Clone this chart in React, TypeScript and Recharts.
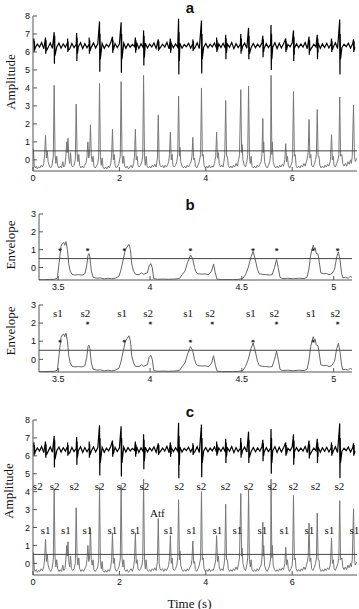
import React from "react";
import { ComposedChart, Line, XAxis, YAxis, ReferenceLine, ReferenceDot } from "recharts";

// ---- panel a / c : heart sound (top trace) and its envelope (bottom trace) ----
const SAMPLE_STEP = 0.05; // s between noise samples of the raw trace

const rawNoise = [
  6.48, 6.22, 6.44, 6.27, 6.52, 6.18, 6.46, 6.25, 6.5, 6.2,
  6.43, 6.28, 6.49, 6.21, 6.45, 6.26, 6.53, 6.17, 6.47, 6.24,
  6.42, 6.29, 6.51, 6.19, 6.46, 6.23, 6.44, 6.27, 6.5, 6.22,
  6.45, 6.25, 6.48, 6.2, 6.43, 6.28, 6.52, 6.18, 6.47, 6.24,
  6.44, 6.26, 6.49, 6.21, 6.46, 6.27, 6.42, 6.3, 6.51, 6.19,
  6.45, 6.24, 6.48, 6.22, 6.44, 6.28, 6.5, 6.2, 6.46, 6.25,
  6.43, 6.27, 6.53, 6.17, 6.47, 6.23, 6.45, 6.26, 6.49, 6.21,
  6.42, 6.29, 6.48, 6.22, 6.46, 6.24, 6.51, 6.19, 6.44, 6.27,
  6.47, 6.23, 6.43, 6.28, 6.5, 6.2, 6.45, 6.25, 6.48, 6.22,
  6.44, 6.26, 6.52, 6.18, 6.46, 6.24, 6.42, 6.3, 6.49, 6.21,
  6.45, 6.25, 6.47, 6.23, 6.44, 6.27, 6.5, 6.2, 6.46, 6.24,
  6.43, 6.28, 6.51, 6.19, 6.48, 6.22, 6.45, 6.26, 6.42, 6.29,
  6.49, 6.21, 6.46, 6.25, 6.44, 6.27, 6.52, 6.18, 6.47, 6.23,
  6.43, 6.28, 6.5, 6.2, 6.45, 6.25, 6.48, 6.22, 6.44, 6.26,
  6.51, 6.19, 6.46, 6.24, 6.43, 6.29, 6.49, 6.21, 6.45, 6.27,
];

// [time, high, low, ring high, ring low]
const rawSpikes = [
  [0.02, 6.75, 6.0, 6.6, 6.1],
  [0.29, 6.8, 5.9, 6.65, 6.05],
  [0.49, 7.1, 5.35, 6.9, 5.8],
  [0.8, 6.75, 6.0, 6.6, 6.1],
  [1.01, 7.05, 5.5, 6.8, 5.9],
  [1.3, 6.8, 5.9, 6.65, 6.05],
  [1.54, 7.7, 4.9, 7.0, 5.6],
  [1.84, 6.85, 5.95, 6.65, 6.1],
  [2.04, 7.65, 4.85, 7.0, 5.6],
  [2.37, 6.8, 5.95, 6.65, 6.1],
  [2.56, 7.2, 5.25, 6.9, 5.7],
  [2.9, 6.7, 6.05, 6.6, 6.15],
  [3.18, 6.75, 5.95, 6.6, 6.1],
  [3.37, 7.85, 4.75, 7.1, 5.5],
  [3.7, 6.7, 6.05, 6.6, 6.15],
  [3.9, 7.75, 4.8, 7.0, 5.6],
  [4.25, 6.8, 6.0, 6.65, 6.1],
  [4.46, 6.95, 5.6, 6.75, 5.95],
  [4.81, 7.0, 5.9, 6.75, 6.05],
  [4.99, 7.35, 5.6, 6.9, 5.9],
  [5.32, 6.9, 5.7, 6.7, 6.0],
  [5.51, 7.5, 5.0, 7.0, 5.6],
  [5.85, 6.75, 6.0, 6.6, 6.1],
  [6.03, 7.2, 5.5, 6.85, 5.85],
  [6.39, 6.85, 5.85, 6.65, 6.05],
  [6.58, 6.95, 5.6, 6.75, 5.95],
  [6.91, 6.75, 6.0, 6.6, 6.1],
  [7.1, 7.8, 4.75, 7.0, 5.6],
  [7.42, 6.7, 6.0, 6.6, 6.1],
];

// [time, envelope]
const envelopeFull = [
  [0.0, 0.1], [0.01, 0.6], [0.03, -0.3], [0.05, -0.45], [0.08, -0.35], [0.1, -0.5], [0.13, -0.4], [0.16, -0.45],
  [0.19, -0.3], [0.22, -0.4], [0.25, -0.2], [0.27, 0.3], [0.29, 1.35], [0.31, 0.1], [0.33, 0.5], [0.35, -0.1],
  [0.38, -0.35], [0.41, -0.45], [0.44, -0.3], [0.47, 0.2], [0.49, 4.15], [0.51, 0.3], [0.53, -0.2], [0.55, 0.2],
  [0.57, -0.3], [0.6, -0.45], [0.63, -0.35], [0.66, -0.45], [0.69, -0.1], [0.71, -0.4], [0.74, -0.3], [0.76, 0.2],
  [0.78, 1.0], [0.79, 0.4], [0.81, 1.2], [0.83, 0.1], [0.85, -0.2], [0.87, 0.4], [0.89, -0.3], [0.92, -0.4],
  [0.95, -0.3], [0.98, 0.0], [1.0, 3.1], [1.02, 0.4], [1.04, -0.1], [1.06, 0.3], [1.08, -0.3], [1.11, -0.45],
  [1.14, -0.35], [1.17, -0.45], [1.2, -0.3], [1.23, -0.15], [1.25, 0.2], [1.27, 1.0], [1.29, 0.1], [1.31, 0.3],
  [1.33, 1.95], [1.35, 0.2], [1.37, -0.1], [1.39, 0.2], [1.41, -0.35], [1.44, -0.45], [1.47, -0.35], [1.5, -0.2],
  [1.52, 0.2], [1.54, 4.25], [1.56, 0.2], [1.58, -0.3], [1.6, 0.1], [1.62, -0.4], [1.65, -0.5], [1.68, -0.4],
  [1.71, -0.5], [1.74, -0.35], [1.77, -0.45], [1.8, -0.2], [1.82, 0.2], [1.84, 1.7], [1.86, 0.0], [1.88, 0.3],
  [1.9, -0.3], [1.93, -0.45], [1.96, -0.35], [1.99, -0.2], [2.02, 0.2], [2.04, 4.35], [2.06, 0.3], [2.08, -0.2],
  [2.1, 0.2], [2.12, -0.35], [2.15, -0.45], [2.18, -0.35], [2.21, -0.5], [2.24, -0.4], [2.27, -0.3], [2.3, -0.45],
  [2.33, -0.2], [2.35, 0.2], [2.37, 1.7], [2.39, 0.0], [2.41, 0.2], [2.43, -0.3], [2.46, -0.4], [2.49, -0.3],
  [2.52, -0.1], [2.54, 0.2], [2.56, 4.7], [2.58, 0.2], [2.6, -0.3], [2.62, 0.2], [2.64, -0.35], [2.67, -0.45],
  [2.7, -0.35], [2.73, -0.45], [2.76, -0.3], [2.79, -0.4], [2.82, -0.25], [2.85, -0.4], [2.88, 0.1], [2.9, 2.5],
  [2.92, 0.0], [2.94, -0.3], [2.97, -0.4], [3.0, -0.3], [3.03, -0.45], [3.06, -0.3], [3.09, -0.4], [3.12, -0.25],
  [3.14, -0.1], [3.16, 0.3], [3.18, 1.55], [3.2, 0.0], [3.22, 0.3], [3.24, -0.3], [3.27, -0.4], [3.3, -0.3],
  [3.33, -0.1], [3.35, 0.3], [3.37, 3.55], [3.39, 0.2], [3.4, 0.7], [3.42, -0.1], [3.45, -0.35], [3.48, -0.45],
  [3.51, -0.35], [3.54, -0.45], [3.57, -0.3], [3.6, -0.4], [3.63, -0.25], [3.66, -0.1], [3.68, 0.2], [3.7, 1.25],
  [3.72, 0.0], [3.74, 0.1], [3.76, -0.35], [3.79, -0.45], [3.82, -0.3], [3.85, -0.1], [3.88, 0.3], [3.9, 4.0],
  [3.92, 0.2], [3.94, 0.3], [3.96, -0.3], [3.99, -0.45], [4.02, -0.35], [4.05, -0.45], [4.08, -0.3], [4.11, -0.45],
  [4.14, -0.35], [4.17, -0.4], [4.2, -0.2], [4.23, 0.2], [4.25, 1.55], [4.27, 0.1], [4.29, 0.4], [4.31, -0.2],
  [4.34, -0.4], [4.37, -0.3], [4.4, -0.4], [4.42, -0.1], [4.44, 0.3], [4.46, 3.3], [4.48, 0.2], [4.5, 0.2],
  [4.52, -0.3], [4.55, -0.45], [4.58, -0.35], [4.61, -0.45], [4.64, -0.3], [4.67, -0.4], [4.7, -0.2], [4.73, -0.35],
  [4.76, 0.0], [4.78, 0.3], [4.81, 3.9], [4.83, 0.4], [4.84, 0.85], [4.86, 0.0], [4.89, -0.3], [4.92, -0.4],
  [4.95, -0.1], [4.97, 0.3], [4.99, 4.1], [5.01, 0.2], [5.03, -0.2], [5.05, 0.2], [5.07, -0.35], [5.1, -0.45],
  [5.13, -0.35], [5.16, -0.45], [5.19, -0.3], [5.22, -0.4], [5.25, -0.25], [5.28, -0.1], [5.3, 0.3], [5.32, 2.3],
  [5.33, 0.4], [5.34, 1.0], [5.36, -0.1], [5.39, -0.35], [5.42, -0.45], [5.45, -0.3], [5.48, -0.1], [5.5, 0.3],
  [5.51, 4.7], [5.53, 0.3], [5.54, 1.0], [5.56, -0.1], [5.59, -0.35], [5.62, -0.45], [5.65, -0.35], [5.68, -0.45],
  [5.71, -0.3], [5.74, -0.4], [5.77, -0.25], [5.8, -0.35], [5.83, 0.0], [5.85, 0.9], [5.87, -0.1], [5.89, 0.2],
  [5.91, -0.3], [5.94, -0.45], [5.97, -0.3], [6.0, -0.1], [6.01, 0.3], [6.03, 3.8], [6.05, 0.2], [6.07, 0.3],
  [6.09, -0.3], [6.12, -0.45], [6.15, -0.35], [6.18, -0.45], [6.21, -0.3], [6.24, -0.4], [6.27, -0.2], [6.3, -0.35],
  [6.33, -0.1], [6.35, 0.1], [6.37, 0.4], [6.39, 2.25], [6.41, 0.1], [6.43, 0.3], [6.45, -0.3], [6.48, -0.4],
  [6.51, -0.25], [6.54, 0.0], [6.56, 0.3], [6.58, 2.8], [6.6, 0.2], [6.62, 0.2], [6.64, -0.3], [6.67, -0.45],
  [6.7, -0.35], [6.73, -0.45], [6.76, -0.3], [6.79, -0.4], [6.82, -0.25], [6.85, -0.35], [6.88, -0.1], [6.89, 0.2],
  [6.91, 1.4], [6.93, 0.0], [6.95, 0.2], [6.97, -0.3], [7.0, -0.4], [7.03, -0.2], [7.06, 0.0], [7.08, 0.3],
  [7.1, 3.5], [7.12, 0.2], [7.15, 0.3], [7.17, -0.2], [7.2, -0.35], [7.23, -0.2], [7.26, -0.35], [7.29, -0.1],
  [7.32, -0.25], [7.35, 0.0], [7.37, -0.2], [7.39, 0.2], [7.42, 3.05], [7.44, 0.2], [7.46, -0.1], [7.5, 0.1],
];

const s1TimesC = [0.29, 0.76, 1.26, 1.84, 2.37, 3.14, 3.67, 4.27, 4.73, 5.31, 5.82, 6.4, 6.86, 7.44];
const s2TimesC = [0.11, 0.5, 0.96, 1.54, 2.05, 2.58, 3.39, 3.9, 4.46, 4.99, 5.54, 6.03, 6.54, 7.09];
const atfTime = 2.88;

// ---- panel b : zoomed envelope 3.4 - 5.1 s ----
const envelopeZoom = [
  [3.395, -0.68], [3.42, -0.68], [3.45, -0.67], [3.48, -0.66], [3.495, -0.6], [3.505, 0.3], [3.515, 1.2],
  [3.522, 1.35], [3.53, 1.4], [3.535, 1.25], [3.542, 1.45], [3.55, 1.0], [3.557, 0.2], [3.565, -0.2],
  [3.575, -0.38], [3.59, -0.42], [3.61, -0.4], [3.63, -0.42], [3.645, -0.35], [3.655, 0.1], [3.662, 0.7],
  [3.667, 0.78], [3.672, 0.6], [3.68, -0.2], [3.69, -0.55], [3.71, -0.6], [3.73, -0.58], [3.75, -0.64],
  [3.77, -0.6], [3.79, -0.63], [3.81, -0.6], [3.83, -0.5], [3.84, -0.2], [3.855, 0.5], [3.865, 1.0],
  [3.875, 1.15], [3.885, 1.3], [3.893, 1.0], [3.9, 0.2], [3.91, -0.2], [3.92, -0.38], [3.94, -0.4],
  [3.955, -0.3], [3.965, -0.38], [3.985, -0.3], [3.995, 0.1], [4.004, 0.22], [4.012, 0.0], [4.02, -0.62],
  [4.04, -0.66], [4.07, -0.65], [4.1, -0.66], [4.13, -0.65], [4.16, -0.62], [4.175, -0.4], [4.19, -0.2],
  [4.205, 0.3], [4.22, 0.7], [4.232, 0.5], [4.242, 0.0], [4.25, -0.25], [4.26, -0.35], [4.28, -0.37],
  [4.3, -0.36], [4.32, -0.4], [4.335, -0.2], [4.346, 0.2], [4.355, -0.3], [4.365, -0.65], [4.39, -0.68],
  [4.42, -0.67], [4.45, -0.68], [4.48, -0.67], [4.505, -0.62], [4.52, -0.4], [4.535, 0.0], [4.55, 0.6],
  [4.561, 0.9], [4.572, 0.5], [4.585, -0.1], [4.595, -0.35], [4.61, -0.38], [4.63, -0.4], [4.65, -0.42],
  [4.665, -0.4], [4.678, 0.0], [4.689, 0.45], [4.698, 0.0], [4.708, -0.55], [4.72, -0.62], [4.75, -0.6],
  [4.78, -0.63], [4.81, -0.6], [4.84, -0.62], [4.855, -0.55], [4.865, -0.1], [4.875, 0.7], [4.882, 1.0],
  [4.889, 1.25], [4.895, 1.05], [4.9, 1.1], [4.905, 0.8], [4.915, 0.75], [4.922, 0.3], [4.93, -0.3],
  [4.945, -0.35], [4.96, -0.33], [4.975, -0.4], [4.99, -0.35], [5.005, -0.1], [5.017, 0.6], [5.026, 0.88],
  [5.035, 0.4], [5.043, -0.3], [5.05, -0.58], [5.065, -0.55], [5.08, -0.6], [5.09, -0.5], [5.1, -0.55],
];

const peakTimesB = [3.51, 3.66, 3.86, 4.22, 4.561, 4.69, 4.889, 5.022];
const s1TimesB = [3.51, 3.86, 4.22, 4.561, 4.889];
const s2TimesB = [3.66, 4.002, 4.339, 4.689, 5.022];

const THRESHOLD = 0.5;

const rawRows = [
  ...rawNoise.map((v, i) => ({ t: i * SAMPLE_STEP, v })),
  ...rawSpikes.flatMap(([t, hi, lo, hi2, lo2]) => [
    { t, v: hi },
    { t: t + 0.006, v: lo },
    { t: t + 0.012, v: hi2 },
    { t: t + 0.018, v: lo2 },
  ]),
].sort((a, b) => a.t - b.t);
const envRows = envelopeFull.map(([t, v]) => ({ t, v }));
const zoomRows = envelopeZoom.map(([t, v]) => ({ t, v }));

const BOX = "#555";
const SANS = "'Liberation Sans', Arial, sans-serif";
const SERIF = "'Liberation Serif', 'Times New Roman', serif";
const tickStyle = { fontSize: 9, fill: "#111", fontFamily: SANS };
const blank = () => "";

// MATLAB-style "*" marker, kept small
const Asterisk = (p: any) => (
  <g stroke="#222" strokeWidth={0.8}>
    <line x1={p.cx - 1.8} y1={p.cy} x2={p.cx + 1.8} y2={p.cy} />
    <line x1={p.cx} y1={p.cy - 1.4} x2={p.cx} y2={p.cy + 1.4} />
    <line x1={p.cx - 1.2} y1={p.cy - 1} x2={p.cx + 1.2} y2={p.cy + 1} />
    <line x1={p.cx - 1.2} y1={p.cy + 1} x2={p.cx + 1.2} y2={p.cy - 1} />
  </g>
);

const tag = (text: string) => (p: any) => (
  <text x={p.cx} y={p.cy} textAnchor="middle" dominantBaseline="central" fontSize={11} fontFamily={SERIF} fill="#111">
    {text}
  </text>
);

function axes(xDomain: number[], xTicks: number[], yDomain: number[], yTicks: number[], yWidth: number) {
  return [
    <XAxis key="xb" type="number" dataKey="t" domain={xDomain} ticks={xTicks} interval={0} allowDataOverflow
      height={19} tickSize={-4} tickMargin={8} tick={tickStyle} axisLine={{ stroke: BOX }} tickLine={{ stroke: BOX }} />,
    <XAxis key="xt" xAxisId="top" orientation="top" type="number" dataKey="t" domain={xDomain} ticks={xTicks} interval={0}
      allowDataOverflow height={0} tickSize={-4} tickFormatter={blank} axisLine={{ stroke: BOX }} tickLine={{ stroke: BOX }} />,
    <YAxis key="yl" type="number" domain={yDomain} ticks={yTicks} interval={0} allowDataOverflow width={yWidth}
      tickSize={-4} tickMargin={7} tick={tickStyle} axisLine={{ stroke: BOX }} tickLine={{ stroke: BOX }} />,
    <YAxis key="yr" yAxisId="right" orientation="right" type="number" domain={yDomain} ticks={yTicks} interval={0}
      allowDataOverflow width={0} tickSize={-4} tickFormatter={blank} axisLine={{ stroke: BOX }} tickLine={{ stroke: BOX }} />,
  ];
}

function AmplitudePanel({ top, yMin, labelled }: { top: number; yMin: number; labelled?: boolean }) {
  return (
    <div style={{ position: "absolute", left: 0, top }}>
      <ComposedChart width={359} height={190} margin={{ top: 16, right: 2, bottom: 0, left: 0 }}>
        {axes([0, 7.5], [0, 2, 4, 6], [yMin, 8], [0, 1, 2, 3, 4, 5, 6, 7, 8], 33)}
        <Line data={rawRows} dataKey="v" type="linear" stroke="#000" strokeWidth={1.2} dot={false} activeDot={false} isAnimationActive={false} />
        <Line data={envRows} dataKey="v" type="linear" stroke="#777" strokeWidth={1} dot={false} activeDot={false} isAnimationActive={false} />
        <ReferenceLine y={THRESHOLD} stroke="#444" strokeWidth={1} />
        {labelled && s1TimesC.map((t) => <ReferenceDot key={"s1" + t} x={t} y={1.86} r={0} shape={tag("s1")} />)}
        {labelled && s2TimesC.map((t) => <ReferenceDot key={"s2" + t} x={t} y={4.32} r={0} shape={tag("s2")} />)}
        {labelled && <ReferenceDot x={atfTime} y={2.79} r={0} shape={tag("Atf")} />}
      </ComposedChart>
    </div>
  );
}

function EnvelopePanel({ top, marginTop, height, labelled }: { top: number; marginTop: number; height: number; labelled?: boolean }) {
  return (
    <div style={{ position: "absolute", left: 0, top }}>
      <ComposedChart width={359} height={height} margin={{ top: marginTop, right: 7, bottom: 0, left: 0 }}>
        {axes([3.395, 5.1], [3.5, 4, 4.5, 5], [-0.7, 3], [0, 1, 2, 3], 39)}
        <Line data={zoomRows} dataKey="v" type="linear" stroke="#666" strokeWidth={1} dot={false} activeDot={false} isAnimationActive={false} />
        <ReferenceLine y={THRESHOLD} stroke="#444" strokeWidth={1} />
        {!labelled && peakTimesB.map((t) => <ReferenceDot key={"p" + t} x={t} y={1} r={2} shape={Asterisk} />)}
        {labelled && s1TimesB.map((t) => <ReferenceDot key={"m1" + t} x={t} y={1} r={2} shape={Asterisk} />)}
        {labelled && s2TimesB.map((t) => <ReferenceDot key={"m2" + t} x={t} y={2} r={2} shape={Asterisk} />)}
        {labelled && s1TimesB.map((t) => <ReferenceDot key={"l1" + t} x={t - 0.012} y={2.56} r={0} shape={tag("s1")} />)}
        {labelled && s2TimesB.map((t) => <ReferenceDot key={"l2" + t} x={t - 0.012} y={2.56} r={0} shape={tag("s2")} />)}
      </ComposedChart>
    </div>
  );
}

const textAt = (x: number, y: number, style: React.CSSProperties, rotate = false): React.CSSProperties => ({
  position: "absolute",
  left: x,
  top: y,
  transform: `translate(-50%, -50%)${rotate ? " rotate(-90deg)" : ""}`,
  whiteSpace: "nowrap",
  lineHeight: 1,
  color: "#111",
  ...style,
});

const titleStyle: React.CSSProperties = { fontFamily: SANS, fontWeight: "bold", fontSize: 15 };
const labelStyle: React.CSSProperties = { fontFamily: SERIF, fontSize: 13 };

export default function App() {
  return (
    <div style={{ position: "absolute", left: 0, top: 0, width: 359, height: 609, background: "#fff", overflow: "hidden" }}>
      <AmplitudePanel top={0} yMin={-0.62} />
      <EnvelopePanel top={200} marginTop={14} height={99} />
      <EnvelopePanel top={290} marginTop={15} height={101} labelled />
      <AmplitudePanel top={404} yMin={-0.65} labelled />

      <div style={textAt(190, 7, titleStyle)}>a</div>
      <div style={textAt(190, 204, titleStyle)}>b</div>
      <div style={textAt(190, 411, titleStyle)}>c</div>

      <div style={textAt(9.5, 82, labelStyle, true)}>Amplitude</div>
      <div style={textAt(9.5, 245, labelStyle, true)}>Envelope</div>
      <div style={textAt(9.5, 331, labelStyle, true)}>Envelope</div>
      <div style={textAt(8, 491, labelStyle, true)}>Amplitude</div>
      <div style={textAt(189.5, 603, labelStyle)}>Time (s)</div>
    </div>
  );
}
